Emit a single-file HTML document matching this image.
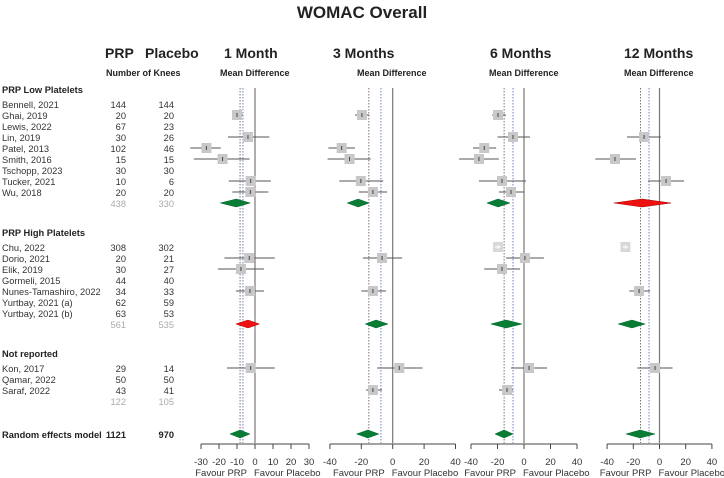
<!DOCTYPE html>
<html><head><meta charset="utf-8"><style>
body{margin:0;background:#fff;}
svg{display:block;font-family:"Liberation Sans",sans-serif;}
</style></head><body>
<svg id="c" width="724" height="478" xmlns="http://www.w3.org/2000/svg">
<text x="362" y="18" text-anchor="middle" font-size="17" font-weight="bold" fill="#222">WOMAC Overall</text>
<text x="105" y="58" font-size="14" font-weight="bold" fill="#222">PRP</text>
<text x="145" y="58" font-size="14" font-weight="bold" fill="#222">Placebo</text>
<text x="106" y="76" font-size="9" font-weight="bold" fill="#222">Number of Knees</text>
</svg>
<script>
const studies=["Bennell, 2021","Ghai, 2019","Lewis, 2022","Lin, 2019","Patel, 2013","Smith, 2016","Tschopp, 2023","Tucker, 2021","Wu, 2018","Chu, 2022","Dorio, 2021","Elik, 2019","Gormeli, 2015","Nunes-Tamashiro, 2022","Yurtbay, 2021 (a)","Yurtbay, 2021 (b)","Kon, 2017","Qamar, 2022","Saraf, 2022"];
const nPRP=[144,20,67,30,102,15,30,10,20,308,20,30,44,34,62,63,29,50,43];
const nPlacebo=[144,20,23,26,46,15,30,6,20,302,21,27,40,33,59,53,14,50,41];
const groupNames=["PRP Low Platelets","PRP High Platelets","Not reported"];
const groupPRP=[438,561,122];
const groupPlacebo=[330,535,105];
const totalPRP=1121, totalPlacebo=970;
const panelTitles=["1 Month","3 Months","6 Months","12 Months"];
const est1=[null,-10,null,-3.9,-27,-18,null,-2.4,-2.6,null,-3.2,-7.8,null,-2.8,null,null,-2.4,null,null];
const lo1=[null,-12.8,null,-15,-36,-34,null,-14.6,-12.6,null,-17,-20.6,null,-10.6,null,null,-15.6,null,null];
const hi1=[null,-6.7,null,8,-19,-3,null,8.8,7.4,null,11,5,null,5,null,null,11,null,null];
const est2=[null,-19.6,null,null,-32.5,-27.5,null,-20.3,-12.6,null,-6.8,null,null,-12.6,null,null,4.2,null,-12.6];
const lo2=[null,-24,null,null,-41,-41.5,null,-34,-21.6,null,-19,null,null,-20,null,null,-10,null,-17];
const hi2=[null,-15,null,null,-24,-14,null,-6,-3.6,null,6,null,null,-4.3,null,null,19,null,-6.8];
const est3=[null,-19.6,null,-8.3,-30,-34,null,-16.6,-9.8,-19.6,0.7,-16.6,null,null,null,null,3.8,null,-12.8];
const lo3=[null,-24,null,-20,-38.5,-49,null,-34,-19,null,-13.6,-30,null,null,null,null,-9.8,null,-18.9];
const hi3=[null,-13.6,null,4.5,-21,-19,null,1.5,0,null,15,-3,null,null,null,null,17.4,null,-8.3];
const est4=[null,null,null,-11.8,null,-34,null,5,null,-26,null,null,null,-15.6,null,null,-3.4,null,null];
const lo4=[null,null,null,-24.8,null,-49,null,-8.8,null,null,null,null,null,-23,null,null,-17,null,null];
const hi4=[null,null,null,1,null,-18,null,18.7,null,null,null,null,null,-7.2,null,null,10,null,null];
const lowSub=[[-10.4,-19.3,-2.6],[-22,-29,-15],[-19.6,-28,-10.6],[-13.4,-34.8,8.8]];
const highSub=[[-3.9,-10.6,2.4],[-10.6,-17.5,-3],[-13.6,-25,-1.5],[-21,-31.6,-11]];
const randomEff=[[-8.3,-13.9,-2.8],[-15.8,-23,-8.8],[-15,-21.9,-8.3],[-14.8,-25.6,-3.4]];
const lowRed=[false,false,false,true];
const highRed=[true,false,false,false];
const refGrey=[-8.3,-15.2,-15,-14.5];
const refBlue=[-6.7,-7.5,-8.3,-8];
const ticks1=[-30,-20,-10,0,10,20,30];
const ticks2=[-40,-20,0,20,40];

const svg=document.getElementById('c');
const NS="http://www.w3.org/2000/svg";
function mk(tag,at,txt){const e=document.createElementNS(NS,tag);for(const k in at)e.setAttribute(k,at[k]);if(txt!==undefined)e.textContent=txt;svg.appendChild(e);return e;}
function rowY(i){if(i<9)return 104+11*i;if(i<16)return 247+11*(i-9);return 368+11*(i-16);}
const subY=[203,324,401], hdrY=[89,232,353], randY=434;
const FS=9.3;

groupNames.forEach((g,k)=>{
 const t=mk('text',{x:2,y:hdrY[k]+4,'font-size':FS,'font-weight':'bold',fill:'#222'},g);
 
 const a=mk('text',{x:126,y:subY[k]+4,'font-size':FS,fill:'#aaa','text-anchor':'end'},groupPRP[k]);
 
 const b=mk('text',{x:174,y:subY[k]+4,'font-size':FS,fill:'#aaa','text-anchor':'end'},groupPlacebo[k]);
 
});
studies.forEach((s,i)=>{
 const y=rowY(i)+4;
 const t=mk('text',{x:2,y:y,'font-size':FS,fill:'#333'},s);
 
 const a=mk('text',{x:126,y:y,'font-size':FS,fill:'#333','text-anchor':'end'},nPRP[i]);
 
 const b=mk('text',{x:174,y:y,'font-size':FS,fill:'#333','text-anchor':'end'},nPlacebo[i]);
 
});
let t=mk('text',{x:2,y:randY+4,'font-size':FS,'font-weight':'bold',fill:'#222'},'Random effects model');

t=mk('text',{x:126,y:randY+4,'font-size':FS,'font-weight':'bold',fill:'#222','text-anchor':'end'},totalPRP);

t=mk('text',{x:174,y:randY+4,'font-size':FS,'font-weight':'bold',fill:'#222','text-anchor':'end'},totalPlacebo);


const panels=[
 {z:255,s:1.8,ticks:ticks1,est:est1,lo:lo1,hi:hi1,tx:224,mx:220},
 {z:392.7,s:1.57,ticks:ticks2,est:est2,lo:lo2,hi:hi2,tx:333,mx:357},
 {z:524,s:1.325,ticks:ticks2,est:est3,lo:lo3,hi:hi3,tx:490,mx:489},
 {z:659.5,s:1.31,ticks:ticks2,est:est4,lo:lo4,hi:hi4,tx:624,mx:624}];
panels.forEach((p,k)=>{
 const X=v=>p.z+v*p.s;
 let e=mk('text',{x:p.tx,y:58,'font-size':14,'font-weight':'bold',fill:'#222'},panelTitles[k]);
 
 e=mk('text',{x:p.mx,y:76,'font-size':9,'font-weight':'bold',fill:'#222'},'Mean Difference');
 
 e=mk('line',{x1:X(refGrey[k]),x2:X(refGrey[k]),y1:88,y2:443,stroke:'#777','stroke-width':1,'stroke-dasharray':'1.5,1.5'});
 
 e=mk('line',{x1:X(refBlue[k]),x2:X(refBlue[k]),y1:88,y2:443,stroke:'#6b7fd0','stroke-width':1,'stroke-dasharray':'1.5,1.5'});
 
 e=mk('line',{x1:X(0),x2:X(0),y1:88,y2:443,stroke:'#777','stroke-width':1.2});
 
 const t0=p.ticks[0],t1=p.ticks[p.ticks.length-1];
 e=mk('line',{x1:X(t0),x2:X(t1),y1:444,y2:444,stroke:'#444','stroke-width':1});
 
 p.ticks.forEach(v=>{
  let a=mk('line',{x1:X(v),x2:X(v),y1:444,y2:449,stroke:'#444','stroke-width':1});
  
  a=mk('text',{x:X(v),y:465,'font-size':9.5,fill:'#333','text-anchor':'middle'},v);
  
 });
 e=mk('text',{x:X(0)-8,y:476,'font-size':9.5,fill:'#333','text-anchor':'end'},'Favour PRP');
 
 e=mk('text',{x:X(0)-1,y:476,'font-size':9.5,fill:'#333','text-anchor':'start'},'Favour Placebo');
 
 p.est.forEach((v,i)=>{
  if(v===null)return;const y=rowY(i);
  const light=p.lo[i]===null;
  if(!light){
   let l=mk('line',{x1:X(p.lo[i]),x2:X(p.hi[i]),y1:y,y2:y,stroke:'#555','stroke-width':1});
   
  }
  let r=mk('rect',{x:X(v)-5,y:y-5,width:10,height:10,fill:light?'#d8d8d8':'#c8c8c8'});
  
  let c=mk('line',{x1:X(v),x2:X(v),y1:y-2,y2:y+2,stroke:light?'#fff':'#444','stroke-width':1});
  
  if(light){c=mk('line',{x1:X(v)-3,x2:X(v)+3,y1:y,y2:y,stroke:'#fff','stroke-width':1});
   }
 });
 const dia=(d,y,red,name)=>{
  const pts=`${X(d[1])},${y} ${X(d[0])},${y-4} ${X(d[2])},${y} ${X(d[0])},${y+4}`;
  const g=mk('polygon',{points:pts,fill:red?'#e11':'#0a7d34',stroke:red?'#a00':'#063',"stroke-width":0.5});
  
 };
 dia(lowSub[k],subY[0],lowRed[k],'low-platelet-pooled');
 dia(highSub[k],subY[1],highRed[k],'high-platelet-pooled');
 dia(randomEff[k],randY,false,'random-effects-pooled');
});
</script>
</body></html>
